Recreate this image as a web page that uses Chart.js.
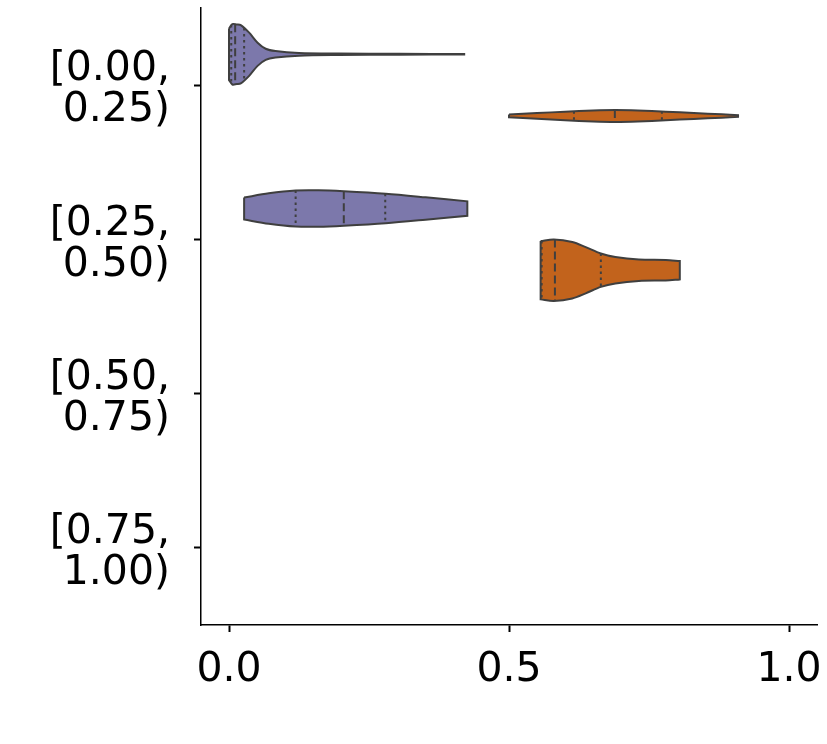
<!DOCTYPE html>
<html>
<head>
<meta charset="utf-8">
<script src="https://cdn.jsdelivr.net/npm/chart.js@4.4.1/dist/chart.umd.min.js"></script>
<style>
  html, body { margin: 0; padding: 0; background: #fff; }
  #wrap { width: 827px; height: 744px; }
</style>
</head>
<body>
<div id="wrap"><canvas id="c" width="827" height="744"></canvas></div>
<script>
// ---- data ----
const yLabels = [["[0.00,", "0.25)"], ["[0.25,", "0.50)"], ["[0.50,", "0.75)"], ["[0.75,", "1.00)"]];
const yTicks = [0, 1, 2, 3];
const xTicks = [0.0, 0.5, 1.0];
const hueOffsets = [-0.2, 0.2];
const hueColors = ["#7c78ab", "#c2631c"];

// violin 1: category 0, hue 0
const v1X = [0, 0.006, 0.014, 0.021, 0.036, 0.051, 0.0655, 0.083, 0.125, 0.196, 0.304, 0.42];
const v1W = [0.167, 0.196, 0.193, 0.189, 0.140, 0.075, 0.036, 0.021, 0.009, 0.005, 0.003, 0.0015];
const v1Q = [0.004, 0.011, 0.027];
const v1QW = [0.190, 0.195, 0.170];

// violin 2: category 0, hue 1
const v2X = [0.5, 0.55, 0.6, 0.65, 0.69, 0.73, 0.78, 0.83, 0.88, 0.909];
const v2W = [0.009, 0.0185, 0.028, 0.036, 0.039, 0.036, 0.028, 0.019, 0.011, 0.005];
const v2Q = [0.616, 0.689, 0.773];
const v2QW = [0.030, 0.039, 0.030];

// violin 3: category 1, hue 0
const v3X = [0.027, 0.071, 0.119, 0.16, 0.205, 0.28, 0.351, 0.4256];
const v3W = [0.0713, 0.0985, 0.1167, 0.118, 0.1115, 0.0953, 0.0726, 0.0467];
const v3Q = [0.119, 0.205, 0.279];
const v3QW = [0.1167, 0.1115, 0.0955];

// violin 4: category 1, hue 1
const v4X = [0.5565, 0.580, 0.613, 0.637, 0.664, 0.69, 0.732, 0.78, 0.805];
const v4W = [0.189, 0.199, 0.183, 0.150, 0.108, 0.0855, 0.0693, 0.0661, 0.0596];
const v4Q = [0.5583, 0.582, 0.664];
const v4QW = [0.190, 0.199, 0.108];

const violins = [
  { cat: 0, hue: 0, xs: v1X, ws: v1W, qs: v1Q, qws: v1QW },
  { cat: 0, hue: 1, xs: v2X, ws: v2W, qs: v2Q, qws: v2QW },
  { cat: 1, hue: 0, xs: v3X, ws: v3W, qs: v3Q, qws: v3QW },
  { cat: 1, hue: 1, xs: v4X, ws: v4W, qs: v4Q, qws: v4QW }
];

// ---- build datasets ----
const edge = "#3f3f3f";
const datasets = [];
violins.forEach(v => {
  const c = v.cat + hueOffsets[v.hue];
  const up = v.xs.map((x, i) => ({ x: x, y: c - v.ws[i] }));
  const lo = v.xs.map((x, i) => ({ x: x, y: c + v.ws[i] })).reverse();
  const pts = [up[0], ...up, up[up.length - 1], lo[0], ...lo, lo[lo.length - 1], up[0]];
  datasets.push({
    data: pts,
    showLine: true,
    fill: 'shape',
    backgroundColor: hueColors[v.hue],
    borderColor: edge,
    borderWidth: 2,
    tension: 0.3,
    pointRadius: 0,
    order: 2
  });
  v.qs.forEach((q, j) => {
    datasets.push({
      data: [{ x: q, y: c - v.qws[j] }, { x: q, y: c + v.qws[j] }],
      showLine: true,
      fill: false,
      borderColor: edge,
      borderWidth: 2,
      borderDash: j === 1 ? [8, 4] : [2.5, 3.5],
      pointRadius: 0,
      order: 1
    });
  });
});

const font = { family: "'DejaVu Sans', sans-serif", size: 41, lineHeight: 1.0 };

new Chart(document.getElementById('c'), {
  type: 'scatter',
  data: { datasets: datasets },
  options: {
    responsive: false,
    animation: false,
    events: [],
    layout: { autoPadding: false, padding: { top: 8, right: 10, left: 0, bottom: 0 } },
    plugins: { legend: { display: false }, tooltip: { enabled: false } },
    scales: {
      x: {
        type: 'linear',
        min: -0.05,
        max: 1.05,
        afterBuildTicks: s => { s.ticks = xTicks.map(v => ({ value: v })); },
        afterFit: s => { s.height = 119; s.paddingLeft = 0; s.paddingRight = 0; },
        ticks: {
          color: '#000',
          font: font,
          padding: 18,
          maxRotation: 0,
          callback: v => Number(v).toFixed(1)
        },
        grid: { drawOnChartArea: false, drawTicks: true, tickLength: 7, tickWidth: 2, color: '#000' },
        border: { display: true, color: '#000', width: 1.5 }
      },
      y: {
        type: 'linear',
        reverse: true,
        min: -0.5,
        max: 3.5,
        afterBuildTicks: s => { s.ticks = yTicks.map(v => ({ value: v })); },
        afterFit: s => { s.width = 201; s.paddingTop = 0; s.paddingBottom = 0; },
        ticks: {
          color: '#000',
          font: font,
          padding: 24,
          labelOffset: 5,
          callback: v => yLabels[v]
        },
        grid: { drawOnChartArea: false, drawTicks: true, tickLength: 7, tickWidth: 2, color: '#000' },
        border: { display: true, color: '#000', width: 1.5 }
      }
    }
  }
});
</script>
</body>
</html>
